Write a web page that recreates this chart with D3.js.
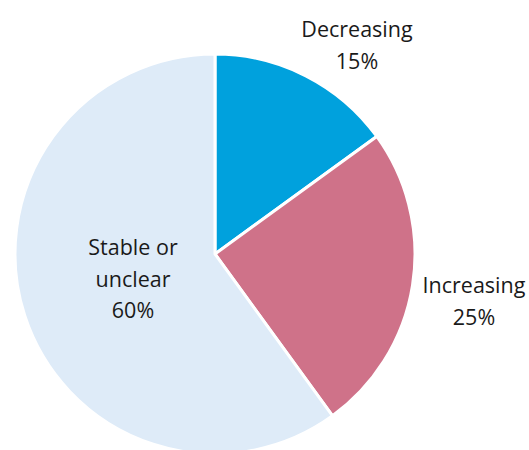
<!DOCTYPE html>
<html>
<head>
<meta charset="utf-8">
<script src="https://cdn.jsdelivr.net/npm/d3@7"></script>
<style>
body { margin: 0; background: #fff; }
text { font-family: "Open Sans", "Noto Sans", sans-serif; font-size: 21.5px; fill: #1a1a1a; }
</style>
</head>
<body>
<div id="chart"></div>
<script>
var categories = ["Decreasing", "Increasing", "Stable or unclear"]
var values = [15, 25, 60]
var colors = ["#00a1dd", "#cf7289", "#deebf8"]
// label lines and where each label sits (x, y of first baseline)
var labelLines = [["Decreasing", "15%"], ["Increasing", "25%"], ["Stable or", "unclear", "60%"]]
var labelPos = [[357, 37], [474, 293], [133, 255]]

var width = 529
var height = 450
var cx = 215
var cy = 254
var radius = 200

var svg = d3.select("#chart").append("svg")
    .attr("width", width)
    .attr("height", height)

var data = categories.map(function(c, i) { return {name: c, value: values[i]} })

var pie = d3.pie().sort(null).value(function(d) { return d.value })
var arc = d3.arc().innerRadius(0).outerRadius(radius)

var g = svg.append("g").attr("transform", "translate(" + cx + "," + cy + ")")

g.selectAll("path")
    .data(pie(data))
    .enter().append("path")
    .attr("d", arc)
    .attr("fill", function(d, i) { return colors[i] })
    .attr("stroke", "#fff")
    .attr("stroke-width", 3)

labelLines.forEach(function(lines, i) {
    var t = svg.append("text")
        .attr("text-anchor", "middle")
        .attr("x", labelPos[i][0])
        .attr("y", labelPos[i][1])
    lines.forEach(function(line, j) {
        t.append("tspan")
            .attr("x", labelPos[i][0])
            .attr("dy", j == 0 ? 0 : 31.5)
            .text(line)
    })
})
</script>
</body>
</html>
